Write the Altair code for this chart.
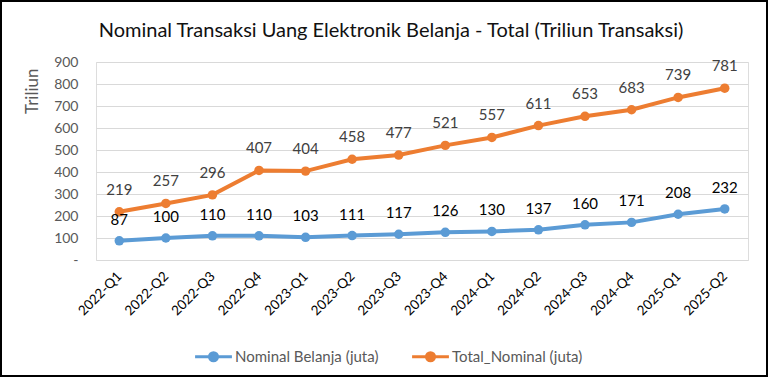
import altair as alt
import pandas as pd

quarters = ["2022-Q1","2022-Q2","2022-Q3","2022-Q4","2023-Q1","2023-Q2","2023-Q3","2023-Q4",
            "2024-Q1","2024-Q2","2024-Q3","2024-Q4","2025-Q1","2025-Q2"]
belanja = [87,100,110,110,103,111,117,126,130,137,160,171,208,232]
total = [219,257,296,407,404,458,477,521,557,611,653,683,739,781]
series_names = ["Nominal Belanja (juta)", "Total_Nominal (juta)"]
colors = ["#5B9BD5", "#ED7D31"]
label_colors = ["#000000", "#404040"]

rows = []
for q, b, t in zip(quarters, belanja, total):
    rows.append({"q": q, "v": b, "s": series_names[0]})
    rows.append({"q": q, "v": t, "s": series_names[1]})
df = pd.DataFrame(rows)

FONT = "Lato"
x = alt.X("q:N", sort=quarters, title=None,
          axis=alt.Axis(labelAngle=-45, labelFontSize=13.5, labelColor="#000000",
                        labelFont=FONT, ticks=False, domain=False, labelPadding=14,
                        labelAlign="right", labelBaseline="middle"),
          scale=alt.Scale(paddingInner=0, paddingOuter=0.5))
y = alt.Y("v:Q", title="Triliun",
          scale=alt.Scale(domain=[0, 900], nice=False),
          axis=alt.Axis(values=list(range(0, 1000, 100)), labelExpr="datum.value == 0 ? '-' : datum.value",
                        labelFontSize=14, labelColor="#595959", labelFont=FONT, ticks=False, domain=False,
                        gridColor="#D9D9D9", labelPadding=18, titleFont=FONT, titleFontSize=17,
                        titleFontWeight="normal", titleColor="#595959", titleAngle=-90,
                        titleAnchor="end", titleX=-55, titleY=6, titleAlign="right", titleBaseline="bottom"))
color = alt.Color("s:N", scale=alt.Scale(domain=series_names, range=colors),
                  legend=alt.Legend(title=None, orient="none", direction="horizontal",
                                    legendX=104, legendY=281, labelFontSize=15, labelFont=FONT,
                                    labelColor="#595959", columnPadding=27,
                                    symbolType="M-1.6,0H1.6M0.35,0A0.35,0.35 0 1 1 -0.35,0A0.35,0.35 0 1 1 0.35,0",
                                    symbolSize=530, symbolStrokeWidth=3, symbolOffset=0, labelOffset=8))

base = alt.Chart(df)
lines = base.mark_line(strokeWidth=4).encode(x=x, y=y, color=color)
points = base.mark_point(filled=True, size=90, opacity=1).encode(x=x, y=y, color=color)
labels_b = base.transform_filter(alt.datum.s == series_names[0]).mark_text(
    dy=-21, fontSize=15, font=FONT, color=label_colors[0]).encode(x=x, y=y, text="v:Q")
labels_t = base.transform_filter(alt.datum.s == series_names[1]).mark_text(
    dy=-22, fontSize=15, font=FONT, color=label_colors[1]).encode(x=x, y=y, text="v:Q")
border = alt.Chart(pd.DataFrame({"a": [0]})).mark_rect(fill=None, stroke="#000000", strokeWidth=2).encode(
    x=alt.value(-95), x2=alt.value(671), y=alt.value(-61), y2=alt.value(314))

chart = alt.layer(lines, points, labels_b, labels_t, border).properties(
    width=652, height=198,
    title=alt.Title("Nominal Transaksi Uang Elektronik Belanja - Total (Triliun Transaksi)",
                    font=FONT, fontSize=20, fontWeight="normal", color="#111111", anchor="middle",
                    offset=-41, dx=-31),
    autosize=alt.AutoSizeParams(type="none"),
    padding={"left": 96, "top": 62, "right": 20, "bottom": 117},
).configure_view(stroke=None).configure(background="white")

chart.save("out.html", embed_options={"renderer": "svg", "actions": False})
